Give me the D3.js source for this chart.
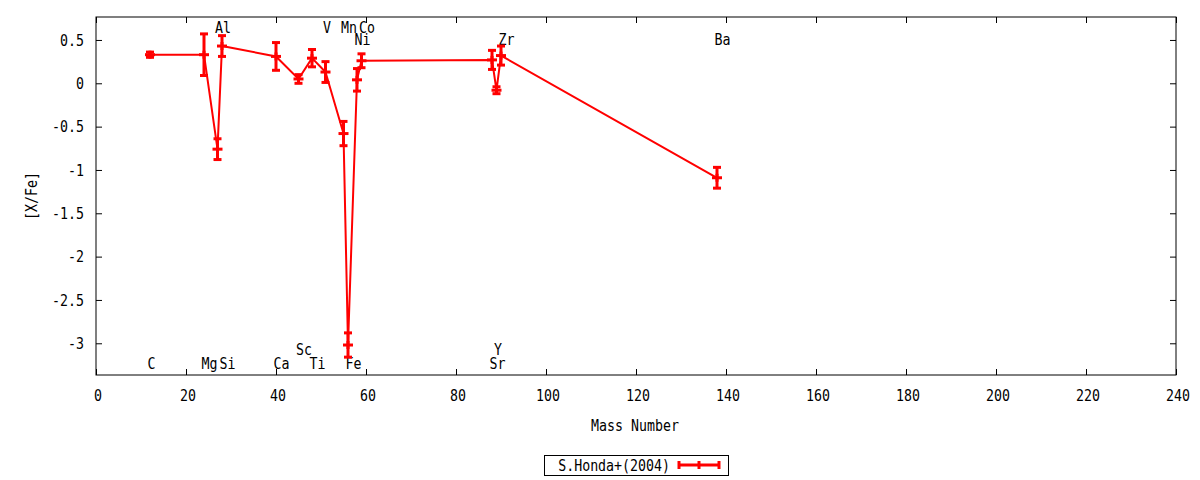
<!DOCTYPE html>
<html>
<head>
<meta charset="utf-8">
<script src="https://cdn.jsdelivr.net/npm/d3@7"></script>
<style>
  body { margin: 0; background: #fff; }
  text { font-family: "DejaVu Sans Mono", monospace; font-size: 16px; fill: #000; }
</style>
</head>
<body>
<div id="chart"></div>
<script>
    // abundance pattern, S.Honda+(2004)
    var massNumber = [12, 24, 27, 28, 40, 45, 48, 51, 55, 56, 58, 59, 88, 89, 90, 138]
    var xFe = [0.33, 0.33, -0.76, 0.43, 0.31, 0.05, 0.29, 0.13, -0.58, -3.02, 0.04, 0.26, 0.27, -0.08, 0.32, -1.09]
    var xFeErr = [0.03, 0.24, 0.12, 0.12, 0.16, 0.05, 0.10, 0.12, 0.14, 0.14, 0.13, 0.08, 0.11, 0.04, 0.11, 0.12]

    // element labels: name, mass, height in [X/Fe]
    var elemNames = ["C", "Mg", "Al", "Si", "Ca", "Sc", "Ti", "V", "Mn", "Fe", "Co", "Ni", "Sr", "Y", "Zr", "Ba"]
    var elemMass = [12, 24, 27, 28, 40, 45, 48, 51, 55, 56, 59, 58, 88, 89, 90, 138]
    var elemLevel = [-3.23, -3.23, 0.65, -3.23, -3.23, -3.07, -3.23, 0.65, 0.65, -3.23, 0.65, 0.51, -3.23, -3.07, 0.51, 0.51]

    var xTicks = [0, 20, 40, 60, 80, 100, 120, 140, 160, 180, 200, 220, 240]
    var yTicks = [0.5, 0, -0.5, -1, -1.5, -2, -2.5, -3]
    var seriesName = "S.Honda+(2004)"

    var width = 1200, height = 480
    var plotL = 96, plotR = 1176, plotT = 17, plotB = 375
    var red = "#ff0000"

    var svg = d3.select("#chart").append("svg")
        .attr("width", width)
        .attr("height", height)

    var x = d3.scaleLinear().domain([0, 240]).range([plotL, plotR])
    var y = d3.scaleLinear().domain([-3.366, 0.765]).range([plotB, plotT])

    // gnuplot font looks condensed, squeeze horizontally
    function label(g, px, py, s, anchor, rot) {
        return g.append("text")
            .attr("transform", `translate(${px},${py})` + (rot ? ` rotate(${rot})` : "") + " scale(0.83,1)")
            .attr("text-anchor", anchor || "start")
            .attr("dy", "0.36em")
            .text(s)
    }

    // ticks, mirrored and pointing inwards
    var tk = v => ""
    svg.append("g").attr("transform", `translate(0,${plotB})`)
        .call(d3.axisBottom(x).tickValues(xTicks).tickFormat(tk).tickSizeInner(-6).tickSizeOuter(0))
    svg.append("g").attr("transform", `translate(0,${plotT})`)
        .call(d3.axisTop(x).tickValues(xTicks).tickFormat(tk).tickSizeInner(-6).tickSizeOuter(0))
    svg.append("g").attr("transform", `translate(${plotL},0)`)
        .call(d3.axisLeft(y).tickValues(yTicks).tickFormat(tk).tickSizeInner(-6).tickSizeOuter(0))
    svg.append("g").attr("transform", `translate(${plotR},0)`)
        .call(d3.axisRight(y).tickValues(yTicks).tickFormat(tk).tickSizeInner(-6).tickSizeOuter(0))
    svg.selectAll(".domain").remove()
    svg.selectAll(".tick line").attr("stroke", "#000")

    svg.append("rect")
        .attr("x", plotL).attr("y", plotT)
        .attr("width", plotR - plotL).attr("height", plotB - plotT)
        .attr("fill", "none").attr("stroke", "#000").attr("stroke-width", 1)

    var labels = svg.append("g")
    xTicks.forEach(v => label(labels, x(v) + 2, 395, String(v), "middle"))
    yTicks.forEach(v => label(labels, 84, y(v), String(v), "end"))
    label(labels, 635, 425, "Mass Number", "middle")
    label(labels, 31, 196, "[X/Fe]", "middle", -90)

    // element names
    var elems = svg.append("g")
    elemNames.forEach((n, i) => label(elems, x(elemMass[i]) - 2.5, y(elemLevel[i]), n, "start"))

    // data line
    var pts = massNumber.map((m, i) => ({m: m, v: xFe[i], e: xFeErr[i]}))
    var plot = svg.append("g")
    plot.append("path")
        .datum(pts)
        .attr("fill", "none")
        .attr("stroke", red)
        .attr("stroke-width", 2)
        .attr("d", d3.line().x(d => x(d.m)).y(d => y(d.v)))

    var bars = plot.selectAll("g.err").data(pts).join("g").attr("class", "err")
        .attr("stroke", red).attr("stroke-width", 3)
    bars.append("line")
        .attr("x1", d => x(d.m)).attr("x2", d => x(d.m))
        .attr("y1", d => y(d.v - d.e)).attr("y2", d => y(d.v + d.e))
    bars.append("line")
        .attr("x1", d => x(d.m) - 4).attr("x2", d => x(d.m) + 4)
        .attr("y1", d => y(d.v + d.e)).attr("y2", d => y(d.v + d.e))
    bars.append("line")
        .attr("x1", d => x(d.m) - 4).attr("x2", d => x(d.m) + 4)
        .attr("y1", d => y(d.v - d.e)).attr("y2", d => y(d.v - d.e))
    // point marker "+"
    bars.append("line")
        .attr("x1", d => x(d.m) - 5).attr("x2", d => x(d.m) + 5)
        .attr("y1", d => y(d.v)).attr("y2", d => y(d.v))
    bars.append("line")
        .attr("x1", d => x(d.m)).attr("x2", d => x(d.m))
        .attr("y1", d => y(d.v) - 4).attr("y2", d => y(d.v) + 4)

    // legend
    var lg = svg.append("g")
    lg.append("rect")
        .attr("x", 544.5).attr("y", 455.5).attr("width", 184).attr("height", 20)
        .attr("fill", "none").attr("stroke", "#000").attr("stroke-width", 1)
    label(lg, 670, 465, seriesName, "end")
    var ls = lg.append("g").attr("stroke", red).attr("stroke-width", 3)
    ls.append("line").attr("x1", 678).attr("x2", 720).attr("y1", 465).attr("y2", 465)
    ;[679, 699, 719].forEach(px => {
        ls.append("line").attr("x1", px).attr("x2", px).attr("y1", 461).attr("y2", 469)
    })
</script>
</body>
</html>
